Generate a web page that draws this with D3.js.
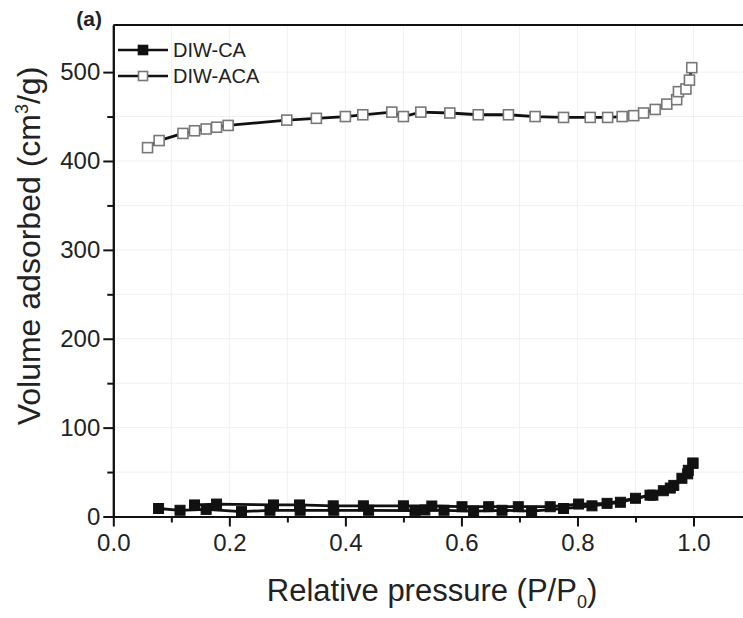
<!DOCTYPE html>
<html>
<head>
<meta charset="utf-8">
<script src="https://cdn.jsdelivr.net/npm/d3@7"></script>
<style>
  body { margin: 0; background: #fff; }
  text { font-family: "Liberation Sans", Arial, sans-serif; fill: #222; }
</style>
</head>
<body>
<script>
// DIW-ACA (open squares)
var acaP = [0.059, 0.079, 0.120, 0.140, 0.160, 0.178, 0.198, 0.299, 0.350, 0.400, 0.430, 0.480, 0.500, 0.530, 0.580, 0.629, 0.681, 0.727, 0.776, 0.822, 0.852, 0.877, 0.897, 0.914, 0.934, 0.954, 0.971, 0.974, 0.987, 0.993, 0.997];
var acaV = [415, 423, 431, 434, 436, 438, 440, 446, 448, 450, 452, 455, 450, 455, 454, 452, 452, 450, 449, 449, 449, 450, 451, 454, 458, 464, 469, 478, 481, 491, 505];

// DIW-CA (filled squares), adsorption and desorption branches
var caAdsP = [0.078, 0.115, 0.160, 0.221, 0.270, 0.322, 0.380, 0.440, 0.520, 0.537, 0.570, 0.621, 0.670, 0.721, 0.776, 0.825, 0.874, 0.900, 0.925, 0.948, 0.966, 0.980, 0.991, 0.999];
var caAdsV = [9, 7, 8, 5.5, 7, 7, 7, 7, 6.5, 7.3, 7, 6, 7, 6, 9, 12, 16, 20.5, 24, 29, 35, 43, 52, 60];
var caDesP = [0.999, 0.990, 0.960, 0.930, 0.851, 0.802, 0.753, 0.698, 0.647, 0.601, 0.549, 0.500, 0.431, 0.379, 0.321, 0.276, 0.178, 0.140];
var caDesV = [60, 48, 32, 24, 14.8, 14, 11, 11, 11, 11, 11.8, 12, 12, 12, 13, 13, 14, 13];

var xTicks = [0, 0.2, 0.4, 0.6, 0.8, 1.0];
var xMinor = [0.1, 0.3, 0.5, 0.7, 0.9];
var yTicks = [0, 100, 200, 300, 400, 500];
var yMinor = [50, 150, 250, 350, 450];
var legendNames = ["DIW-CA", "DIW-ACA"];

var width = 743, height = 618;
var svg = d3.select("body").append("svg")
    .attr("width", width)
    .attr("height", height);
svg.append("rect").attr("width", width).attr("height", height).attr("fill", "#fff");

var x = d3.scaleLinear().domain([0, 1.0853]).range([113.3, 743]);
var y = d3.scaleLinear().domain([0, 553]).range([516.5, 25]);

// faint grid
svg.append("g").selectAll("line")
    .data(xTicks.concat(xMinor).filter(function(d){ return d > 0; }))
    .enter().append("line")
    .attr("x1", function(d){ return x(d); }).attr("x2", function(d){ return x(d); })
    .attr("y1", y(553)).attr("y2", y(0))
    .attr("stroke", "#f1f1f1");
svg.append("g").selectAll("line")
    .data(yTicks.concat(yMinor).filter(function(d){ return d > 0; }))
    .enter().append("line")
    .attr("x1", x(0)).attr("x2", width)
    .attr("y1", function(d){ return y(d); }).attr("y2", function(d){ return y(d); })
    .attr("stroke", "#f1f1f1");

// axes
svg.append("g").attr("transform", "translate(0," + y(0) + ")")
    .call(d3.axisBottom(x).tickValues(xTicks).tickSize(10).tickSizeOuter(0).tickPadding(7).tickFormat(d3.format(".1f")));
svg.append("g").attr("transform", "translate(0," + y(0) + ")")
    .call(d3.axisBottom(x).tickValues(xMinor).tickSize(6).tickSizeOuter(0).tickFormat(""));
svg.append("g").attr("transform", "translate(" + x(0) + ",0)")
    .call(d3.axisLeft(y).tickValues(yTicks).tickSize(10).tickSizeOuter(0).tickPadding(3));
svg.append("g").attr("transform", "translate(" + x(0) + ",0)")
    .call(d3.axisLeft(y).tickValues(yMinor).tickSize(6).tickSizeOuter(0).tickFormat(""));

svg.selectAll(".domain, .tick line").attr("stroke", "#111").attr("stroke-width", 2);
svg.selectAll(".tick text").style("font-size", "24px").attr("fill", "#333")
    .style("font-family", "'Liberation Sans', Arial, sans-serif");

// top frame line
svg.append("line")
    .attr("x1", x(0)).attr("x2", width)
    .attr("y1", y(553)).attr("y2", y(553))
    .attr("stroke", "#111").attr("stroke-width", 2);

// lines
var line = d3.line()
    .x(function(d){ return x(d[0]); })
    .y(function(d){ return y(d[1]); });

function pairs(ps, vs) { return ps.map(function(p, i){ return [p, vs[i]]; }); }

var branches = [
  {data: pairs(caAdsP, caAdsV), open: false},
  {data: pairs(caDesP, caDesV), open: false},
  {data: pairs(acaP, acaV), open: true}
];

branches.forEach(function(b){
  svg.append("path")
    .datum(b.data)
    .attr("fill", "none")
    .attr("stroke", "#111")
    .attr("stroke-width", 2.8)
    .attr("d", line);
});

branches.forEach(function(b){
  var s = 10;
  svg.append("g").selectAll("rect")
    .data(b.data)
    .enter().append("rect")
    .attr("x", function(d){ return x(d[0]) - s / 2; })
    .attr("y", function(d){ return y(d[1]) - s / 2; })
    .attr("width", s).attr("height", s)
    .attr("fill", b.open ? "#fff" : "#111")
    .attr("stroke", b.open ? "#777" : "#111")
    .attr("stroke-width", b.open ? 1.6 : 1);
});

// legend
var leg = svg.append("g").selectAll("g")
    .data(legendNames)
    .enter().append("g")
    .attr("transform", function(d, i){ return "translate(118," + (50 + i * 26) + ")"; });
leg.append("line").attr("x1", 0).attr("x2", 50).attr("stroke", "#111").attr("stroke-width", 2.5);
leg.append("rect")
    .attr("x", 20.5).attr("y", -4.5).attr("width", 9).attr("height", 9)
    .attr("fill", function(d, i){ return i ? "#fff" : "#111"; })
    .attr("stroke", function(d, i){ return i ? "#777" : "#111"; })
    .attr("stroke-width", 1.6);
leg.append("text")
    .attr("x", 55).attr("dy", "0.36em")
    .style("font-size", "20px")
    .text(function(d){ return d; });

// axis titles
var xt = svg.append("text")
    .attr("x", 432).attr("y", 601)
    .attr("text-anchor", "middle")
    .style("font-size", "31px");
xt.append("tspan").text("Relative pressure (P/P");
xt.append("tspan").attr("dy", 7).style("font-size", "18px").text("0");
xt.append("tspan").attr("dy", -7).text(")");

var yt = svg.append("text")
    .attr("transform", "translate(40,246) rotate(-90)")
    .attr("text-anchor", "middle")
    .style("font-size", "32px");
yt.append("tspan").text("Volume adsorbed (cm");
yt.append("tspan").attr("dy", -12).style("font-size", "18px").text("3");
yt.append("tspan").attr("dy", 12).text("/g)");

// panel label
svg.append("text")
    .attr("x", 102).attr("y", 26)
    .attr("text-anchor", "end")
    .style("font-size", "21px").style("font-weight", "bold")
    .text("(a)");
</script>
</body>
</html>
